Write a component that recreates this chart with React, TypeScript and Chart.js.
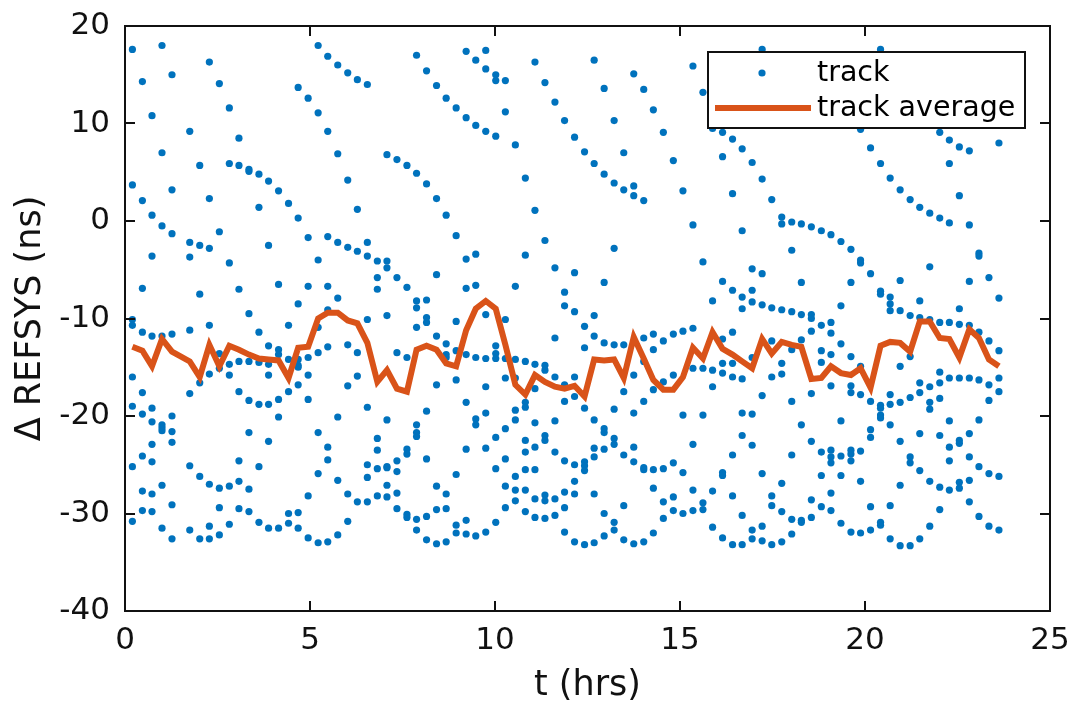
import { useEffect, useRef } from "react";
import { Chart, registerables } from "chart.js";

Chart.register(...registerables);

// Track start times (hours)
const trackTimes = [
  0.2, 0.47, 0.73, 1.0, 1.27, 1.75, 2.02, 2.28, 2.55, 2.82, 3.08, 3.35, 3.62, 3.88, 4.15, 4.42, 4.68, 4.95,
  5.22, 5.48, 5.75, 6.02, 6.28, 6.55, 6.82, 7.08, 7.35, 7.62, 7.88, 8.15, 8.42, 8.68, 8.95, 9.22, 9.48, 9.75,
  10.02, 10.28, 10.55, 10.82, 11.08, 11.35, 11.62, 11.88, 12.15, 12.42, 12.68, 12.95, 13.22, 13.48, 13.75,
  14.02, 14.28, 14.55, 14.82, 15.08, 15.35, 15.62, 15.88, 16.15, 16.42, 16.68, 16.95, 17.22, 17.48, 17.75,
  18.02, 18.28, 18.55, 18.82, 19.08, 19.35, 19.62, 19.88, 20.15, 20.42, 20.68, 20.95, 21.22, 21.48, 21.75,
  22.02, 22.28, 22.55, 22.82, 23.08, 23.35, 23.62,
];

// Per-track satellite values (ns), one list per track time
const trackValues = [
  [17.6, 3.7, -10.1, -10.7, -16.0, -19.0, -25.2, -30.8],
  [14.3, 2.1, -6.9, -11.4, -17.6, -19.8, -24.1, -27.7, -29.7],
  [10.8, 0.6, -3.6, -11.8, -19.2, -20.6, -22.9, -24.7, -28.0, -29.8],
  [18.0, 7.0, -0.5, -11.8, -20.9, -21.2, -21.5, -27.1, -31.5],
  [15.0, 3.2, -1.3, -11.6, -20.0, -21.6, -22.7, -29.1, -32.6],
  [9.2, -2.2, -3.7, -11.2, -17.7, -25.1, -31.7],
  [5.7, -2.5, -7.5, -16.6, -26.2, -32.6],
  [16.3, 2.3, -2.8, -10.7, -15.7, -27.0, -31.3, -32.6],
  [14.1, -1.1, -13.6, -15.1, -27.4, -29.4, -32.2],
  [11.6, 5.9, -4.3, -14.7, -15.8, -27.2, -31.1],
  [8.5, 5.7, -7.0, -14.4, -17.5, -24.6, -26.7, -29.5],
  [5.3, 5.1, -9.5, -14.4, -18.4, -21.7, -27.5, -29.8],
  [4.8, 1.4, -11.4, -14.5, -18.8, -25.2, -30.9],
  [4.1, -2.5, -12.8, -14.7, -15.8, -18.8, -22.6, -31.5],
  [3.1, -6.5, -13.2, -13.7, -18.3, -20.1, -31.5],
  [1.8, -10.7, -14.2, -17.5, -30.0, -31.0],
  [13.7, 0.3, -8.5, -14.2, -14.8, -15.0, -16.8, -29.9, -31.5],
  [12.6, -1.7, -6.7, -14.0, -15.8, -18.3, -28.2, -32.5],
  [18.0, 11.1, -4.0, -10.9, -13.5, -21.7, -25.9, -33.0],
  [16.9, 9.2, -1.6, -6.7, -9.1, -12.9, -23.2, -24.5, -32.9],
  [16.0, 6.9, -2.2, -7.9, -20.1, -26.6, -32.2],
  [15.2, 4.2, -2.7, -12.7, -16.9, -28.0, -30.8],
  [14.5, 1.2, -3.1, -13.5, -15.9, -28.8],
  [14.0, -2.2, -3.6, -10.1, -19.1, -25.0, -26.3, -28.8],
  [-4.1, -5.8, -7.0, -22.3, -23.5, -25.4, -28.2],
  [6.8, -4.1, -4.8, -9.7, -20.4, -25.2, -25.3, -27.1, -28.3],
  [6.3, -5.8, -13.5, -24.6, -25.7, -27.9, -29.5],
  [5.7, -6.8, -14.0, -23.4, -23.9, -30.1, -30.4],
  [17.0, 4.9, -8.2, -8.9, -10.9, -20.9, -21.7, -22.1, -30.6, -31.7],
  [15.4, 3.8, -8.1, -9.9, -10.4, -19.5, -24.4, -30.3, -32.7],
  [13.9, 2.3, -5.5, -11.8, -16.8, -27.2, -29.6, -33.1],
  [12.6, 0.6, -12.6, -13.7, -14.0, -28.0, -29.5, -32.9],
  [11.6, -1.5, -10.3, -13.3, -16.3, -26.0, -31.2, -32.0],
  [17.4, 10.6, -3.9, -6.9, -13.7, -18.6, -23.4, -30.7, -32.1],
  [16.5, 9.8, -3.4, -6.6, -14.0, -20.3, -20.9, -32.3],
  [17.5, 15.6, 9.2, -9.6, -14.1, -17.0, -19.7, -23.3, -31.9],
  [15.0, 14.4, 8.7, -12.8, -13.6, -14.1, -22.2, -25.4, -30.9],
  [14.4, 11.2, -10.1, -14.1, -16.1, -21.3, -24.4, -27.2, -29.4],
  [7.8, -6.7, -14.2, -16.1, -19.4, -20.4, -26.2, -27.6, -28.7],
  [4.4, -3.5, -14.4, -18.6, -19.1, -22.5, -23.7, -25.5, -27.6, -29.8],
  [16.3, 1.1, -14.7, -17.2, -20.7, -23.2, -25.5, -28.5, -30.4],
  [14.2, -2.0, -14.8, -15.3, -22.0, -22.5, -28.1, -28.7, -30.5],
  [12.2, -4.8, -12.0, -16.0, -20.5, -23.7, -28.5, -30.2],
  [10.3, -7.3, -8.7, -16.8, -18.5, -24.6, -27.8, -29.4, -31.9],
  [8.6, -5.3, -9.3, -16.0, -18.0, -25.0, -26.7, -28.0, -32.9],
  [7.1, -10.8, -13.0, -19.2, -24.7, -25.1, -25.6, -33.2],
  [16.5, 5.9, -9.7, -11.8, -20.4, -23.3, -24.2, -28.0, -33.0],
  [13.6, 4.8, -6.3, -12.5, -21.3, -21.7, -23.4, -30.0, -32.3],
  [10.3, 3.9, -2.8, -12.7, -19.3, -22.3, -22.9, -30.9, -31.7],
  [7.0, 3.2, -12.7, -17.5, -24.0, -29.2, -32.7],
  [15.1, 3.6, 2.6, -15.8, -19.7, -23.2, -24.7, -33.1],
  [13.5, 2.1, -12.0, -14.4, -18.5, -25.3, -25.5, -32.9],
  [11.4, -11.6, -13.2, -17.3, -25.5, -27.4, -32.0],
  [9.1, -12.3, -16.5, -25.4, -28.8, -30.5],
  [6.2, -11.6, -15.8, -24.8, -28.3, -29.7],
  [3.1, -11.3, -19.9, -25.8, -30.0],
  [15.9, -0.4, -11.0, -15.1, -22.9, -27.6, -29.7],
  [13.2, -4.2, -15.1, -19.9, -28.9, -29.6],
  [9.5, -8.2, -15.3, -17.0, -27.7, -31.4],
  [9.1, 6.6, -6.2, -12.1, -14.6, -15.6, -25.8, -26.1, -32.5],
  [8.4, 2.8, -7.1, -11.4, -14.6, -16.0, -24.0, -28.2, -33.2],
  [7.4, -1.0, -7.8, -9.0, -16.2, -19.7, -22.0, -30.2, -33.2],
  [6.0, -4.9, -7.1, -8.3, -14.0, -19.8, -23.0, -31.7, -32.6],
  [17.6, 15.2, 4.3, -5.4, -8.6, -17.9, -25.9, -31.3, -32.8],
  [2.2, -8.9, -12.3, -16.0, -28.2, -29.2, -33.2],
  [0.4, -0.3, -9.1, -14.6, -15.7, -26.9, -29.8, -32.9],
  [-0.1, -3.0, -9.3, -13.2, -18.5, -24.0, -30.6, -32.1],
  [-0.3, -6.3, -9.6, -12.2, -20.9, -30.7, -30.9],
  [-0.6, -9.6, -10.0, -11.3, -17.7, -22.6, -28.6, -30.4],
  [-1.0, -10.7, -13.3, -14.5, -23.7, -26.1, -29.3],
  [-1.4, -10.4, -11.5, -13.7, -16.9, -23.5, -24.2, -24.8, -27.9, -29.7],
  [-2.1, -8.7, -12.6, -20.5, -24.1, -26.1, -31.0],
  [-2.9, -6.3, -13.9, -16.9, -17.6, -23.5, -23.9, -24.6, -31.9],
  [9.4, -4.0, -4.3, -14.9, -17.8, -23.6, -26.7, -32.0],
  [7.5, -5.4, -18.5, -21.4, -22.2, -29.3, -31.7],
  [17.6, 5.9, -7.2, -7.5, -18.9, -19.2, -19.9, -20.2, -30.9, -31.2],
  [4.4, -7.8, -8.5, -9.2, -17.8, -18.8, -20.9, -29.2, -32.6],
  [3.2, -6.1, -9.2, -14.9, -18.6, -22.6, -27.1, -33.3],
  [2.2, -9.7, -13.9, -18.1, -24.2, -24.8, -33.3],
  [1.4, -8.2, -9.9, -16.6, -17.6, -21.8, -25.6, -32.6],
  [0.8, -4.7, -10.1, -17.0, -18.6, -19.3, -26.7, -31.3],
  [9.1, 0.3, -10.4, -15.5, -16.6, -18.2, -22.0, -27.3, -29.6],
  [8.3, 5.9, -0.2, -10.4, -16.1, -20.5, -23.2, -24.6, -27.6],
  [7.6, 2.6, -9.0, -10.6, -16.1, -22.5, -22.8, -26.8, -27.4],
  [7.2, -0.4, -6.2, -10.7, -16.1, -21.8, -24.2, -26.6, -28.8],
  [-3.3, -3.6, -11.4, -16.3, -20.4, -25.2, -30.3],
  [-5.8, -12.3, -16.8, -18.4, -25.9, -31.3],
  [8.0, -7.9, -13.3, -16.1, -17.5, -26.2, -31.7],
];

// Track average (ns), one per track time
const trackAverage = [
  -12.9, -13.3, -14.9, -12.1, -13.4, -14.4, -16.0, -12.7, -14.9, -12.8, -13.2, -13.7, -14.1, -14.2, -14.3,
  -16.1, -13.0, -12.9, -10.0, -9.4, -9.4, -10.2, -10.5, -12.5, -16.5, -15.3, -17.2, -17.5, -13.2, -12.8,
  -13.2, -14.6, -14.9, -11.2, -9.0, -8.2, -9.0, -12.7, -16.8, -17.8, -15.8, -16.5, -17.0, -17.2, -16.9,
  -18.0, -14.2, -14.3, -14.2, -16.1, -11.9, -14.1, -16.3, -17.3, -17.3, -16.0, -13.0, -14.1, -11.4, -13.1,
  -13.7, -14.4, -15.1, -12.1, -13.6, -12.4, -12.7, -12.9, -16.2, -16.1, -14.9, -15.6, -15.8, -15.1, -17.1,
  -12.8, -12.4, -12.5, -13.4, -10.3, -10.3, -12.0, -12.1, -14.0, -11.1, -12.0, -14.2, -14.9,
];

const xTicks = [0, 5, 10, 15, 20, 25];
const yTicks = [-40, -30, -20, -10, 0, 10, 20];
const xTitle = "t (hrs)";
const yTitle = "\u0394 REFSYS (ns)";
const trackLabel = "track";
const averageLabel = "track average";

const BLUE = "#0072BD";
const ORANGE = "#D95319";
const AXIS = "#111111";
const FONT = '"DejaVu Sans", sans-serif';

const matlabAxes = {
  id: "matlabAxes",
  afterDraw(chart: any) {
    const { ctx, chartArea: a, scales } = chart;
    const xs = scales.x;
    const ys = scales.y;
    const T = 10;
    ctx.save();
    ctx.strokeStyle = AXIS;
    ctx.lineWidth = 2;
    ctx.beginPath();
    xTicks.forEach((v) => {
      const px = Math.round(xs.getPixelForValue(v));
      ctx.moveTo(px, a.bottom);
      ctx.lineTo(px, a.bottom - T);
      ctx.moveTo(px, a.top);
      ctx.lineTo(px, a.top + T);
    });
    yTicks.forEach((v) => {
      const py = Math.round(ys.getPixelForValue(v));
      ctx.moveTo(a.left, py);
      ctx.lineTo(a.left + T, py);
      ctx.moveTo(a.right, py);
      ctx.lineTo(a.right - T, py);
    });
    ctx.stroke();
    ctx.strokeRect(a.left, a.top, a.right - a.left, a.bottom - a.top);

    ctx.fillStyle = AXIS;
    ctx.font = `31px ${FONT}`;
    ctx.textBaseline = "middle";
    ctx.textAlign = "right";
    yTicks.forEach((v) => {
      ctx.fillText(String(v), a.left - 15, ys.getPixelForValue(v));
    });
    ctx.textAlign = "center";
    xTicks.forEach((v) => {
      ctx.fillText(String(v), xs.getPixelForValue(v), a.bottom + 30);
    });

    ctx.font = `35px ${FONT}`;
    ctx.fillText(xTitle, (a.left + a.right) / 2, 686);
    ctx.save();
    ctx.translate(31, (a.top + a.bottom) / 2);
    ctx.rotate(-Math.PI / 2);
    ctx.fillText(yTitle, 0, 0);
    ctx.restore();

    // legend
    const bx = 708, by = 52, bw = 317, bh = 76;
    ctx.fillStyle = "#ffffff";
    ctx.fillRect(bx, by, bw, bh);
    ctx.strokeStyle = AXIS;
    ctx.lineWidth = 2;
    ctx.strokeRect(bx, by, bw, bh);
    ctx.fillStyle = BLUE;
    ctx.beginPath();
    ctx.arc(762, 73, 3.6, 0, Math.PI * 2);
    ctx.fill();
    ctx.strokeStyle = ORANGE;
    ctx.lineWidth = 6;
    ctx.beginPath();
    ctx.moveTo(715, 108);
    ctx.lineTo(811, 108);
    ctx.stroke();
    ctx.fillStyle = "#000000";
    ctx.font = `28.5px ${FONT}`;
    ctx.textAlign = "left";
    ctx.textBaseline = "middle";
    const ds = chart.data.datasets;
    const tr = ds.find((d: any) => d.label === trackLabel);
    const av = ds.find((d: any) => d.label === averageLabel);
    ctx.fillText(tr.label, 817, 74);
    ctx.fillText(av.label, 817, 109);
    ctx.restore();
  },
};

export default function App() {
  const ref = useRef<HTMLCanvasElement | null>(null);
  useEffect(() => {
    if (!ref.current) return;
    const points = trackTimes.flatMap((t, i) => trackValues[i].map((v) => ({ x: t, y: v })));
    const avg = trackTimes.map((t, i) => ({ x: t, y: trackAverage[i] }));
    const chart = new Chart(ref.current, {
      type: "scatter",
      data: {
        datasets: [
          {
            label: averageLabel,
            data: avg,
            showLine: true,
            borderColor: ORANGE,
            borderWidth: 6,
            borderJoinStyle: "miter",
            pointRadius: 0,
            pointHoverRadius: 0,
            fill: false,
            tension: 0,
            order: 0,
          } as any,
          {
            label: trackLabel,
            data: points,
            backgroundColor: BLUE,
            borderWidth: 0,
            pointRadius: 3.6,
            pointHoverRadius: 3.6,
            order: 1,
          } as any,
        ],
      },
      options: {
        animation: false,
        responsive: false,
        devicePixelRatio: 1,
        events: [],
        layout: { autoPadding: false, padding: { left: 0, right: 22, top: 26, bottom: 0 } },
        plugins: { legend: { display: false }, tooltip: { enabled: false } },
        scales: {
          x: {
            type: "linear",
            min: 0,
            max: 25,
            ticks: { display: false, stepSize: 5 },
            grid: { display: false },
            border: { display: false },
            afterFit: (s: any) => {
              s.height = 91;
            },
          },
          y: {
            type: "linear",
            min: -40,
            max: 20,
            ticks: { display: false, stepSize: 10 },
            grid: { display: false },
            border: { display: false },
            afterFit: (s: any) => {
              s.width = 125;
            },
          },
        },
      } as any,
      plugins: [matlabAxes],
    });
    return () => chart.destroy();
  }, []);
  return (
    <div style={{ position: "fixed", left: 0, top: 0, width: 1072, height: 702, background: "#fff" }}>
      <canvas ref={ref} width={1072} height={702} style={{ width: 1072, height: 702 }} />
    </div>
  );
}
